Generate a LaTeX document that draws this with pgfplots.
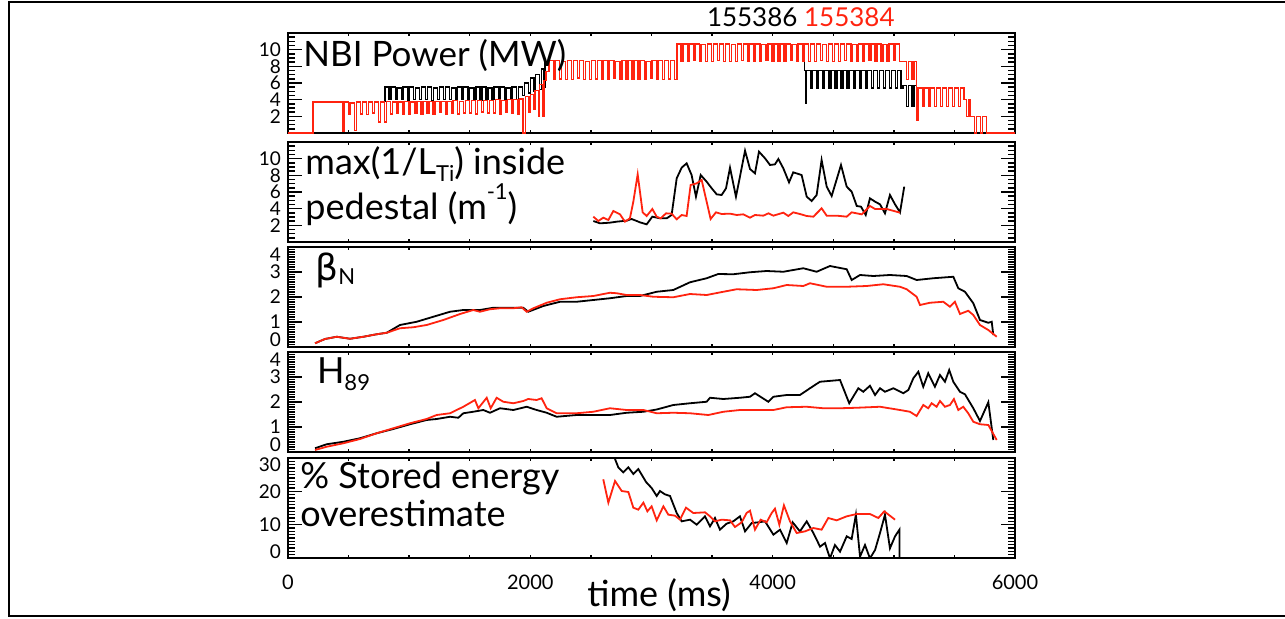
\documentclass[border=0pt]{standalone}
\usepackage{fontspec}
\setmainfont{Lato}
\newfontfamily\dejavu{DejaVu Sans}
\usepackage{pgfplots}
\pgfplotsset{compat=1.18}
\definecolor{pred}{RGB}{255,35,15}
\newcommand{\lbl}{\fontsize{18}{18}\selectfont}
\newcommand{\sub}{\fontsize{11}{11}\selectfont}
\pgfplotsset{
 panel/.style={
  scale only axis, width=363.5pt, height=50pt, anchor=south west,
  xmin=0, xmax=6000, xtick={0,2000,4000,6000}, minor x tick num=3,
  xticklabels={},
  tick align=inside,
  axis line style={line width=1pt},
  every tick/.style={black, line width=0.7pt},
  major tick length=7pt, minor tick length=3.5pt,
  xtick style={/pgfplots/major tick length=1.5pt,/pgfplots/minor tick length=1.5pt},
  yticklabel style={font=\fontsize{9.5}{9.5}\selectfont, inner ysep=0pt},
  xticklabel style={font=\fontsize{10}{10}\selectfont},
  /pgf/number format/assume math mode=true,
  every axis plot/.append style={line width=0.9pt},
 },
 fourpanel/.style={panel, ymin=0, ymax=4, ytick={0,1,2,3,4}, yticklabels={{},1,2,3,{}},
  minor y tick num=9, extra y ticks={0.28,3.68}, extra y tick labels={0,4},
  extra y tick style={major tick length=0pt}},
}
\begin{document}
\begin{tikzpicture}
\useasboundingbox (0,0) rectangle (642.5pt,309pt);
% Panel 1
\begin{axis}[panel, at={(144pt,242.5pt)}, ymin=0, ymax=12, ytick={0,2,4,6,8,10,12},
  yticklabels={{},2,4,6,8,10,{}}, minor y tick num=3, every axis plot/.append style={line width=0.7pt}]
\addplot[const plot, black] coordinates {(780,3.8)(800,5.5)(835,4.0)(850,5.5)(885,4.0)(900,5.4)(935,4.0)(950,5.5)(985,3.9)(1000,5.5)(1035,4.0)(1050,5.4)(1085,4.0)(1100,5.5)(1135,4.0)(1150,5.5)(1185,3.9)(1200,5.4)(1235,4.0)(1250,5.5)(1285,4.0)(1300,5.5)(1335,4.0)(1350,5.4)(1385,3.9)(1400,5.5)(1435,4.0)(1450,5.5)(1485,4.0)(1500,5.4)(1535,4.0)(1550,5.5)(1585,3.9)(1600,5.5)(1635,4.0)(1650,5.4)(1685,4.0)(1700,5.5)(1735,4.0)(1750,5.5)(1785,3.9)(1800,5.4)(1835,4.0)(1850,5.5)(1885,4.0)(1900,5.5)(1935,4.5)(1950,6.0)(1985,4.8)(2000,6.6)(2030,5.0)(2045,7.0)(2075,5.2)(2090,7.7)(2110,5.5)(2120,8.6)(2150,8.6)};
\addplot[const plot, black] coordinates {(4230,10.7)(4265,7.5)(4272,3.6)(4280,7.5)(4315,5.4)(4330,7.5)(4365,5.4)(4380,7.5)(4415,5.4)(4430,7.5)(4465,5.4)(4480,7.5)(4515,5.4)(4530,7.5)(4565,5.4)(4580,7.5)(4615,5.4)(4630,7.5)(4665,5.4)(4680,7.5)(4715,5.4)(4730,7.5)(4765,5.4)(4780,7.5)(4815,5.4)(4830,7.5)(4865,5.4)(4880,7.5)(4915,5.4)(4930,7.5)(4965,5.4)(4980,7.5)(5015,5.4)(5030,7.5)(5060,5.4)(5075,5.7)(5105,3.2)(5120,5.7)(5150,3.2)(5165,5.7)(5185,5.4)(5190,5.4)};
\addplot[const plot, pred] coordinates {(0,0)(206,3.7)(413,3.7)(448,0.2)(463,3.7)(498,2.3)(513,3.6)(548,0.3)(563,3.7)(598,2.3)(613,3.7)(648,2.2)(663,3.7)(698,2.4)(713,3.7)(748,1.3)(763,3.7)(798,1.3)(813,3.8)(848,2.3)(863,3.7)(898,2.4)(913,3.7)(948,2.3)(963,3.8)(998,2.2)(1013,3.7)(1048,2.4)(1063,3.8)(1098,2.3)(1113,3.8)(1148,2.4)(1163,3.8)(1198,2.3)(1213,3.8)(1248,2.5)(1263,3.8)(1298,2.3)(1313,3.8)(1348,2.4)(1363,3.9)(1398,2.3)(1413,3.8)(1448,2.4)(1463,3.9)(1498,2.4)(1513,3.9)(1548,2.3)(1563,3.9)(1598,2.5)(1613,3.9)(1648,2.4)(1663,3.9)(1698,2.4)(1713,4.0)(1748,2.3)(1763,3.9)(1798,2.5)(1813,4.0)(1848,2.4)(1863,4.0)(1898,2.3)(1913,4.1)(1938,0)(1960,4.4)(1990,2.5)(2000,4.6)(2030,2.8)(2040,5.1)(2065,2.0)(2078,5.8)(2100,2.0)(2112,6.3)(2130,7.4)
(2155,8.7)(2190,6.4)(2205,8.7)(2240,6.5)(2255,8.6)(2290,6.4)(2305,8.7)(2340,6.4)(2355,8.7)(2390,6.6)(2405,8.7)(2440,6.4)(2455,8.6)(2490,6.4)(2505,8.7)(2540,6.5)(2555,8.7)(2590,6.4)(2605,8.7)(2640,6.4)(2655,8.7)(2690,6.6)(2705,8.6)(2740,6.4)(2755,8.7)(2790,6.4)(2805,8.7)(2840,6.5)(2855,8.7)(2890,6.4)(2905,8.7)(2940,6.4)(2955,8.6)(2990,6.6)(3005,8.7)(3040,6.4)(3055,8.7)(3090,6.4)(3105,8.7)(3140,6.5)(3155,8.7)(3190,6.4)
(3210,10.7)(3245,8.6)(3260,10.7)(3295,8.6)(3310,10.7)(3345,8.7)(3360,10.7)(3395,8.6)(3410,10.6)(3445,8.6)(3460,10.7)(3495,8.6)(3510,10.7)(3545,8.7)(3560,10.7)(3595,8.6)(3610,10.7)(3645,8.6)(3660,10.6)(3695,8.6)(3710,10.7)(3745,8.7)(3760,10.7)(3795,8.6)(3810,10.7)(3845,8.6)(3860,10.7)(3895,8.6)(3910,10.6)(3945,8.7)(3960,10.7)(3995,8.6)(4010,10.7)(4045,8.6)(4060,10.7)(4095,8.6)(4110,10.7)(4145,8.7)(4160,10.6)(4195,8.6)(4210,10.7)(4245,8.6)(4260,10.7)(4295,8.6)(4310,10.7)(4345,8.6)(4360,10.7)(4395,8.7)(4410,10.6)(4445,8.6)(4460,10.7)(4495,8.6)(4510,10.7)(4545,8.6)(4560,10.7)(4595,8.7)(4610,10.7)(4645,8.6)(4660,10.6)(4695,8.6)(4710,10.7)(4745,8.6)(4760,10.7)(4795,8.7)(4810,10.7)(4845,8.6)(4860,10.7)(4895,8.6)(4910,10.6)(4945,8.6)(4960,10.7)(4995,8.7)(5010,10.7)(5045,8.6)
(5075,8.6)(5105,6.4)(5120,8.6)(5150,6.4)(5165,8.6)(5185,5.4)(5192,1.5)(5200,5.4)(5235,3.2)(5250,5.4)(5285,3.2)(5300,5.4)(5335,3.2)(5350,5.4)(5385,3.2)(5400,5.4)(5435,3.2)(5450,5.4)(5485,3.2)(5500,5.4)(5535,3.2)(5550,5.4)(5580,4.0)(5600,2.0)(5615,4.0)(5630,2.0)(5665,0)(5680,2.0)(5715,0)(5730,2.0)(5765,0)(5780,0)(6000,0)};
\end{axis}
% Panel 2
\begin{axis}[panel, at={(144pt,188pt)}, ymin=0, ymax=12, ytick={0,2,4,6,8,10,12},
  yticklabels={{},2,4,6,8,10,{}}, minor y tick num=3]
\addplot[black] coordinates {(2520,2.52)(2575,2.24)(2657,2.32)(2713,2.44)(2795,2.56)(2836,2.76)(2878,2.52)(2905,2.36)(2960,2.12)(3007,3.04)(3070,2.84)(3125,2.84)(3166,3.24)(3208,7.64)(3249,8.92)(3290,9.44)(3331,8.04)(3367,5.44)(3406,8.04)(3455,7.24)(3497,6.44)(3538,5.72)(3579,5.64)(3615,6.44)(3648,8.92)(3697,5.44)(3730,7.84)(3772,10.96)(3813,8.76)(3854,8.24)(3887,10.84)(3937,10.04)(3978,9.24)(4019,9.32)(4047,9.96)(4088,8.84)(4135,7.16)(4170,8.36)(4239,8.04)(4281,5.44)(4322,4.92)(4363,5.64)(4404,9.84)(4446,6.64)(4487,5.52)(4564,9.24)(4611,6.64)(4652,6.04)(4694,4.32)(4729,4.24)(4768,3.24)(4803,5.24)(4845,4.84)(4886,4.52)(4927,3.44)(4968,5.64)(5010,4.52)(5051,3.56)(5086,6.64)};
\addplot[pred] coordinates {(2520,3.04)(2561,2.52)(2602,2.92)(2644,2.64)(2685,3.72)(2740,3.32)(2781,2.44)(2822,2.84)(2850,4.84)(2886,8.12)(2927,3.56)(2960,3.12)(3007,3.96)(3043,3.04)(3076,2.84)(3120,3.44)(3166,3.40)(3208,2.72)(3249,3.24)(3290,3.12)(3323,6.84)(3373,7.04)(3414,7.44)(3488,2.76)(3532,3.56)(3579,3.36)(3648,3.40)(3703,3.24)(3758,3.32)(3813,2.92)(3854,3.24)(3923,3.16)(3965,3.44)(4006,3.16)(4088,3.52)(4129,3.12)(4170,3.56)(4225,3.36)(4281,3.12)(4336,3.04)(4404,4.04)(4446,3.16)(4528,3.16)(4611,3.04)(4652,3.56)(4735,3.32)(4803,4.32)(4845,3.96)(4941,3.96)(5051,3.52)};
\end{axis}
% Panel 3
\begin{axis}[fourpanel, at={(144pt,135.5pt)}]
\addplot[black] coordinates {(223,0.15)(305,0.32)(402,0.41)(512,0.33)(622,0.41)(732,0.51)(815,0.57)(924,0.88)(1062,1.01)(1199,1.21)(1337,1.41)(1447,1.48)(1584,1.48)(1694,1.57)(1832,1.57)(1942,1.57)(1983,1.41)(2107,1.64)(2245,1.81)(2382,1.81)(2520,1.88)(2657,1.95)(2795,2.04)(2905,2.04)(3043,2.21)(3180,2.28)(3318,2.59)(3455,2.75)(3551,2.92)(3675,2.91)(3813,2.99)(3950,3.04)(4088,3.01)(4253,3.15)(4363,3.01)(4473,3.24)(4611,3.11)(4652,2.68)(4721,2.88)(4831,2.84)(4968,2.88)(5106,2.84)(5188,2.68)(5326,2.75)(5436,2.79)(5491,2.81)(5532,2.35)(5587,2.21)(5656,1.75)(5711,1.08)(5780,0.97)(5808,1.01)(5821,0.48)};
\addplot[pred] coordinates {(223,0.15)(305,0.32)(402,0.41)(512,0.33)(622,0.41)(732,0.51)(815,0.57)(924,0.75)(1034,0.79)(1144,0.88)(1282,1.08)(1420,1.32)(1529,1.48)(1584,1.41)(1667,1.51)(1750,1.55)(1860,1.55)(1928,1.59)(1970,1.41)(2025,1.55)(2135,1.77)(2245,1.91)(2382,1.99)(2520,2.04)(2657,2.17)(2713,2.15)(2795,2.08)(2905,2.08)(3015,2.01)(3180,1.99)(3318,2.12)(3455,2.08)(3593,2.21)(3703,2.31)(3868,2.28)(4006,2.35)(4116,2.48)(4253,2.44)(4308,2.55)(4446,2.41)(4611,2.41)(4776,2.44)(4913,2.51)(5051,2.41)(5106,2.31)(5188,2.01)(5216,1.68)(5298,1.77)(5408,1.81)(5463,1.61)(5504,1.81)(5546,1.32)(5614,1.45)(5656,1.28)(5711,0.88)(5780,0.68)(5849,0.41)};
\end{axis}
% Panel 4
\begin{axis}[fourpanel, at={(144pt,83pt)}]
\addplot[black] coordinates {(223,0.15)(319,0.31)(457,0.41)(594,0.55)(732,0.75)(869,0.92)(1007,1.11)(1144,1.28)(1227,1.32)(1337,1.41)(1406,1.37)(1447,1.55)(1529,1.61)(1612,1.68)(1667,1.57)(1750,1.75)(1860,1.68)(1970,1.81)(2052,1.68)(2135,1.57)(2217,1.41)(2382,1.48)(2520,1.48)(2657,1.48)(2795,1.57)(2933,1.61)(3043,1.70)(3180,1.88)(3318,1.95)(3455,2.01)(3483,2.17)(3593,2.12)(3730,2.17)(3813,2.21)(3854,2.35)(3964,2.01)(4006,2.21)(4116,2.28)(4225,2.28)(4308,2.55)(4390,2.81)(4556,2.88)(4632,1.95)(4707,2.55)(4748,2.41)(4803,2.65)(4845,2.28)(4886,2.55)(4927,2.41)(4996,2.55)(5078,2.35)(5120,2.48)(5161,2.95)(5202,3.21)(5243,2.61)(5284,3.15)(5339,2.61)(5381,3.08)(5422,2.81)(5457,3.28)(5491,2.81)(5546,2.41)(5587,2.31)(5656,1.75)(5711,1.24)(5780,1.99)(5821,0.48)};
\addplot[pred] coordinates {(223,0.08)(319,0.21)(457,0.35)(594,0.52)(732,0.75)(869,0.95)(1007,1.15)(1144,1.32)(1227,1.48)(1337,1.55)(1447,1.81)(1543,2.08)(1571,1.75)(1640,2.17)(1673,1.75)(1722,2.17)(1777,2.01)(1860,1.95)(1942,2.04)(1983,2.12)(2052,2.08)(2093,2.15)(2135,1.75)(2217,1.55)(2382,1.55)(2520,1.61)(2657,1.75)(2795,1.68)(2933,1.68)(3043,1.55)(3180,1.57)(3318,1.55)(3469,1.48)(3593,1.61)(3730,1.68)(3868,1.68)(4006,1.68)(4116,1.79)(4281,1.81)(4418,1.75)(4556,1.75)(4694,1.77)(4886,1.81)(5051,1.68)(5133,1.61)(5188,1.44)(5243,1.88)(5284,1.75)(5312,1.95)(5353,1.81)(5381,2.04)(5422,1.81)(5463,1.88)(5496,2.12)(5532,1.68)(5573,1.81)(5614,1.55)(5656,1.21)(5711,1.11)(5780,1.08)(5849,0.48)};
\end{axis}
% Panel 5
\begin{axis}[panel, at={(144pt,30pt)}, ymin=0, ymax=30, ytick={0,10,20,30},
  yticklabels={{},10,20,{}}, minor y tick num=9, extra y ticks={1.8,27.9},
  extra y tick labels={0,30}, extra y tick style={major tick length=0pt},
  xticklabels={0,2000,4000,6000}, xticklabel style={yshift=-5pt}]
\addplot[black] coordinates {(2680,33)(2699,29.7)(2726,27.2)(2767,25.7)(2809,27.2)(2850,25.2)(2891,26.7)(2955,22.8)(3001,21.0)(3043,18.6)(3070,20.1)(3111,19.1)(3153,18.6)(3208,13.5)(3249,11.0)(3318,11.5)(3373,10.0)(3441,12.5)(3483,9.5)(3524,12.0)(3565,8.5)(3620,10.3)(3675,11.0)(3730,12.5)(3772,8.0)(3827,10.5)(3882,10.7)(3937,11.0)(4006,7.0)(4061,8.5)(4116,4.5)(4165,10.7)(4225,8.0)(4281,11.0)(4336,7.5)(4391,3.4)(4432,4.5)(4473,-0.1)(4514,3.9)(4556,1.9)(4611,6.5)(4652,5.7)(4687,13.0)(4721,0.4)(4762,3.9)(4803,-0.1)(4845,2.4)(4886,7.5)(4927,13.0)(4968,2.9)(5010,6.5)(5046,8.5)(5046,-1)};
\addplot[pred] coordinates {(2602,23.6)(2644,16.6)(2699,23.1)(2754,20.1)(2809,19.8)(2850,15.1)(2891,14.5)(2933,16.6)(2966,14.0)(3001,15.5)(3043,11.3)(3098,15.5)(3139,13.0)(3194,12.7)(3235,11.5)(3285,15.1)(3345,13.5)(3442,13.7)(3483,12.5)(3524,11.0)(3579,11.5)(3648,11.3)(3689,9.3)(3744,10.7)(3785,13.5)(3813,14.2)(3854,8.5)(3901,11.5)(3950,10.7)(3992,13.5)(4019,14.8)(4055,10.0)(4093,15.8)(4143,11.0)(4198,7.5)(4267,8.0)(4336,9.0)(4404,8.5)(4459,12.0)(4528,11.3)(4611,12.5)(4694,13.2)(4803,13.2)(4872,12.0)(4921,14.0)(5010,11.5)};
\end{axis}
% Texts
\node[anchor=base west, inner sep=0] at (151.5pt,275.7pt) {\fontsize{17.5}{17.5}\selectfont NBI Power (MW)};
\node[anchor=base west, inner sep=0] at (152.5pt,221.8pt) {\lbl\baselineskip=16.6pt\vtop{\hbox{max(1/L\raisebox{-0.2em}{\sub Ti}) inside}\hbox{pedestal (m\raisebox{0.55em}{\sub -1})}}};
\node[anchor=base west, inner sep=0] at (157.5pt,169pt) {{\lbl\dejavu β}\raisebox{-0.2em}{\sub N}};
\node[anchor=base west, inner sep=0] at (158.3pt,117.3pt) {\lbl H\raisebox{-0.2em}{\sub 89}};
\node[anchor=base west, inner sep=0] at (150pt,64.8pt) {\lbl\baselineskip=19.1pt\vtop{\hbox{\% Stored energy}\hbox{overestimate}}};
\node[anchor=base west, inner sep=0] at (293.5pt,5.7pt) {\lbl time (ms)};
\node[anchor=base west, inner sep=0] at (353.3pt,295.7pt) {\fontsize{13}{13}\selectfont 155386 \textcolor{pred}{155384}};
\draw[line width=1pt] (643pt,308pt) -- (4.5pt,308pt) -- (4.5pt,1pt) -- (643pt,1pt);
\end{tikzpicture}
\end{document}
